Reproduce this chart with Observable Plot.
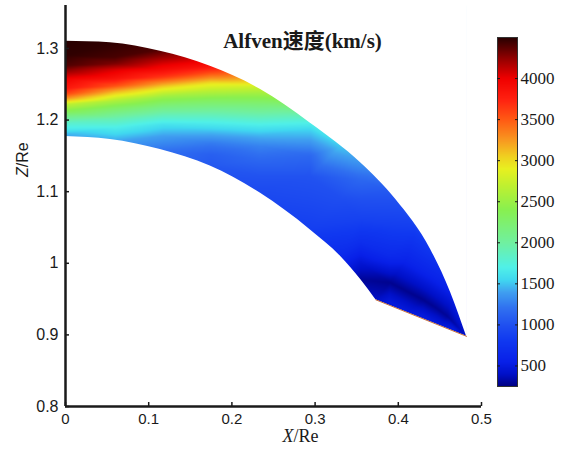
<!DOCTYPE html>
<html><head><meta charset="utf-8">
<script src="https://cdn.jsdelivr.net/npm/d3@7"></script>
<script src="https://cdn.jsdelivr.net/npm/@observablehq/plot@0.6"></script>
<style>body{margin:0;background:#fff}#chart{position:relative;width:578px;height:453px}</style>
</head><body><div id="chart"></div>
<script>
// ---- texts & ticks ----
const title = "Alfven速度(km/s)";
const xLabel = "X/Re";
const yLabel = "Z/Re";
const xTicks = [0, 0.1, 0.2, 0.3, 0.4, 0.5];
const yTicks = [0.8, 0.9, 1, 1.1, 1.2, 1.3];
const cbTicks = [500, 1000, 1500, 2000, 2500, 3000, 3500, 4000];
const xDomain = [0, 0.5];
const yDomain = [0.8, 1.36];
const cbDomain = [250, 4500];

// ---- colormap ----
const colorValues = [250, 400, 550, 800, 1000, 1200, 1400, 1550, 1700, 2000, 2400, 2700, 2900, 3050, 3250, 3500, 3750, 4000, 4250, 4400, 4500];
const colorHexes = ["#000080", "#0010c8", "#0820e8", "#1038f0", "#2050f0", "#3070f0", "#40a0f0", "#40d8f0", "#50f0e8", "#70f0a0", "#88f050", "#c0f030", "#e8f020", "#f0d020", "#f89820", "#ff5a14", "#ff2010", "#f00000", "#900000", "#500000", "#280000"];

// ---- region boundaries ----
const outerX = [0, 0.054, 0.114, 0.174, 0.234, 0.294, 0.355, 0.397, 0.439, 0.463, 0.482];
const outerY = [1.310, 1.308, 1.296, 1.275, 1.243, 1.196, 1.140, 1.089, 1.019, 0.959, 0.898];
const innerX = [0, 0.054, 0.114, 0.174, 0.234, 0.294, 0.3305, 0.355, 0.373];
const innerY = [1.177, 1.173, 1.159, 1.136, 1.098, 1.047, 1.010, 0.977, 0.949];
const edgeX = [0.373, 0.482];
const edgeY = [0.949, 0.898];

// ---- Alfven speed samples (x, z, km/s) ----
const sampleX = [
  0,0,0,0,0,0,0,0,0,0,0,0,0,0,0,0,
  0.06,0.06,0.06,0.06,0.06,0.06,0.06,0.06,0.06,0.06,0.06,0.06,0.06,
  0.117,0.117,0.117,0.117,0.117,0.117,0.117,0.117,0.117,0.117,0.117,0.117,0.117,
  0.175,0.175,0.175,0.175,0.175,0.175,0.175,0.175,0.175,0.175,0.175,0.175,
  0.233,0.233,0.233,0.233,0.233,0.233,0.233,0.233,0.233,0.233,
  0.294,0.294,0.294,0.294,0.294,0.294,0.294,
  0.33,0.33,0.33,
  0.355,0.355,0.355,0.355,0.355,0.355,0.355,
  0.373,
  0.39,0.39,0.39,0.39,0.39,
  0.42,0.41,0.43,0.43,
  0.439,0.443,0.445,
  0.463,0.459,0.467,
  0.482,0.41,0.45
];
const sampleY = [
  1.310,1.290,1.276,1.269,1.258,1.244,1.237,1.231,1.226,1.222,1.213,1.205,1.195,1.187,1.180,1.176,
  1.307,1.288,1.279,1.270,1.258,1.248,1.241,1.234,1.227,1.217,1.203,1.190,1.170,
  1.299,1.289,1.281,1.270,1.260,1.251,1.243,1.232,1.218,1.205,1.193,1.178,1.157,
  1.275,1.267,1.259,1.251,1.242,1.229,1.210,1.197,1.182,1.168,1.152,1.136,
  1.246,1.238,1.224,1.205,1.191,1.178,1.164,1.145,1.122,1.100,
  1.196,1.187,1.168,1.150,1.122,1.089,1.047,
  1.163,1.090,1.010,
  1.140,1.117,1.089,1.061,1.030,1.000,0.977,
  0.949,
  1.100,1.052,1.010,0.973,0.945,
  1.050,1.005,0.949,0.926,
  1.019,0.982,0.938,
  0.959,0.926,0.9075,
  0.898,0.932,0.913
];
const sampleV = [
  4500,4480,4400,4250,4000,3800,3600,3300,3000,2700,2400,2100,1800,1650,1450,1400,
  4480,4420,4300,4050,3850,3550,3200,2900,2600,2300,1950,1700,1400,
  4400,4250,4100,3900,3650,3250,2900,2500,2150,1850,1600,1400,1200,
  3850,3600,3300,2950,2700,2350,1950,1700,1450,1250,1100,1050,
  2750,2550,2250,1900,1650,1450,1280,1150,1020,950,
  1700,1550,1350,1150,1020,950,850,
  1500,980,650,
  1350,1150,1000,880,700,450,300,
  400,
  1050,850,650,280,500,
  850,600,280,500,
  780,600,290,
  550,300,500,
  400,500,500
];

// ---- tables built from the arrays ----
const samples = sampleX.map((x, i) => ({x, y: sampleY[i], v: sampleV[i]}));
const outerPts = outerX.map((x, i) => ({x, y: outerY[i]}));
const innerPts = innerX.map((x, i) => ({x, y: innerY[i]}));
const edgePts = edgeX.map((x, i) => ({x, y: edgeY[i]}));
const edgeSlope = (edgeY[1] - edgeY[0]) / (edgeX[1] - edgeX[0]);
const edgeMask = [
  {x: edgeX[0] - 0.013, y: edgeY[0] - edgeSlope * 0.013},
  ...edgePts,
  {x: xDomain[1] + 0.02, y: edgeY[1] + edgeSlope * (xDomain[1] + 0.02 - edgeX[1])}
];

const colorScale = {type: "linear", domain: colorValues, range: colorHexes, clamp: true};
const sans = "Liberation Sans, Arial, sans-serif";
const serif = "Liberation Serif, 'Times New Roman', 'Noto Sans CJK SC', serif";
const axisColor = "#1a1a1a";
const fmt = d => `${d}`;

const main = Plot.plot({
  width: 578, height: 453,
  marginLeft: 65, marginRight: 97, marginTop: 5, marginBottom: 47,
  x: {domain: xDomain},
  y: {domain: yDomain},
  color: colorScale,
  style: {background: "white", fontFamily: sans, color: axisColor, overflow: "hidden"},
  marks: [
    Plot.raster(samples, {x: "x", y: "y", fill: "v", interpolate: "barycentric", pixelSize: 1}),
    Plot.areaY(outerPts, {x: "x", y1: yDomain[1] + 0.01, y2: "y", fill: "white", curve: "monotone-x"}),
    Plot.areaY(innerPts, {x: "x", y1: yDomain[0] - 0.01, y2: "y", fill: "white", curve: "monotone-x"}),
    Plot.areaY(edgeMask, {x: "x", y1: yDomain[0] - 0.01, y2: "y", fill: "white"}),
    Plot.rect([0], {x1: edgeX[1], x2: xDomain[1] + 0.02, y1: yDomain[0] - 0.01, y2: yDomain[1] + 0.01, fill: "white"}),
    Plot.line(edgePts, {x: "x", y: "y", stroke: "#c8703c", strokeWidth: 1}),
    Plot.ruleX([xDomain[0]], {stroke: axisColor, strokeWidth: 2.5}),
    Plot.ruleY([yDomain[0]], {stroke: axisColor, strokeWidth: 2.5}),
    Plot.axisX(xTicks, {tickSize: 4, dy: -4, fill: "none", label: null, strokeWidth: 1.5}),
    Plot.axisY(yTicks, {tickSize: 4, dx: 4, fill: "none", label: null, strokeWidth: 1.5}),
    Plot.axisX(xTicks, {tickSize: 0, tickPadding: 7, fontSize: 15, label: null, tickFormat: fmt}),
    Plot.axisY(yTicks, {tickSize: 0, tickPadding: 7, fontSize: 16, label: null, tickFormat: fmt}),
    Plot.text([yLabel], {frameAnchor: "left", dx: -43, dy: -29, rotate: -90, fontSize: 16, fontFamily: sans}),
    Plot.text([xLabel], {frameAnchor: "bottom", dx: 27, dy: 35, fontSize: 18, fontFamily: serif}),
    Plot.text([title], {frameAnchor: "top", dx: 29, dy: 28, fontSize: 21, fontWeight: "bold", fontFamily: serif})
  ]
});

const cbar = Plot.plot({
  width: 578, height: 453,
  marginLeft: 497, marginRight: 61, marginTop: 37, marginBottom: 67,
  x: {domain: [0, 1], axis: null},
  y: {domain: cbDomain, axis: null},
  color: colorScale,
  style: {background: "none", fontFamily: serif, color: axisColor},
  marks: [
    Plot.raster({fill: (x, y) => y, x1: 0, x2: 1, y1: cbDomain[0], y2: cbDomain[1], pixelSize: 1}),
    Plot.frame({stroke: "#333", strokeWidth: 1}),
    Plot.axisY(cbTicks, {anchor: "left", tickSize: 3, dx: 3, fill: "none", label: null}),
    Plot.axisY(cbTicks, {anchor: "right", tickSize: 3, dx: -3, fill: "none", label: null}),
    Plot.axisY(cbTicks, {anchor: "right", tickSize: 0, tickPadding: 3, fontSize: 17, fontFamily: serif, label: null, tickFormat: fmt})
  ]
});

// italic first letters of axis labels
const NS = "http://www.w3.org/2000/svg";
d3.select(main).selectAll("text").each(function () {
  const s = this.textContent;
  if (s === xLabel || s === yLabel) {
    this.textContent = "";
    const t = document.createElementNS(NS, "tspan");
    t.setAttribute("font-style", "italic");
    t.textContent = s[0];
    this.appendChild(t);
    this.appendChild(document.createTextNode(s.slice(1)));
  }
});
main.appendChild(cbar);
document.getElementById("chart").appendChild(main);
</script></body></html>
